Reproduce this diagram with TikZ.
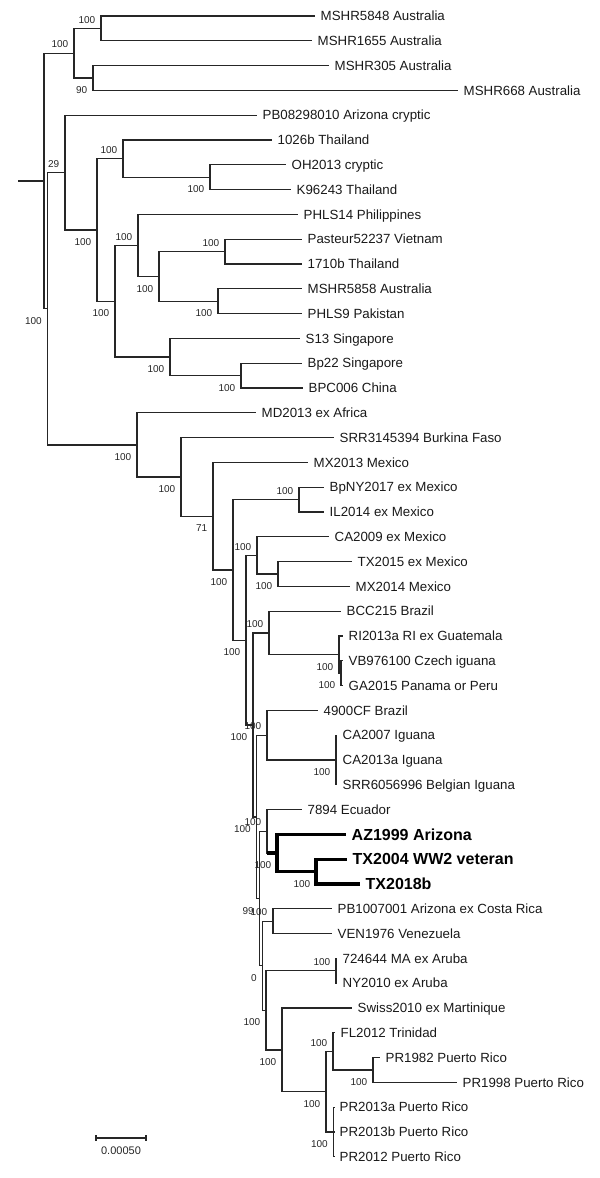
\documentclass[tikz,border=0pt]{standalone}
\usepackage{fontspec}
\setmainfont{Liberation Sans}
\begin{document}
\begin{tikzpicture}[x=1bp,y=-1bp,
  br/.style={line width=1.3bp, draw=black!85},
  hl/.style={line width=3.2bp, draw=black},
  leaf/.style={anchor=west, inner xsep=5.5bp, inner ysep=0pt, text=black!90,
    font=\fontsize{13.3bp}{16bp}\selectfont, text height=9.5bp, text depth=0pt},
  leafb/.style={leaf, font=\fontsize{16bp}{19bp}\selectfont\bfseries, text=black, text height=11.5bp},
  bs/.style={anchor=east, inner sep=0pt, text=black!85,
    font=\fontsize{10bp}{12bp}\selectfont, text height=7.2bp, text depth=0pt},
  bsu/.style={bs, xshift=-5.5bp, yshift=9bp},
  bsd/.style={bs, xshift=-5.5bp, yshift=-12bp}]
\useasboundingbox (0,0) rectangle (600,1178);

% ---------- leaves ----------
\node[leaf] (L1) at (315,16.0) {MSHR5848 Australia};
\node[leaf] (L2) at (312,40.8) {MSHR1655 Australia};
\node[leaf] (L3) at (329,65.6) {MSHR305 Australia};
\node[leaf] (L4) at (458,90.4) {MSHR668 Australia};
\node[leaf] (L5) at (257,115.2) {PB08298010 Arizona cryptic};
\node[leaf] (L6) at (272,140.0) {1026b Thailand};
\node[leaf] (L7) at (286,164.8) {OH2013 cryptic};
\node[leaf] (L8) at (291,189.6) {K96243 Thailand};
\node[leaf] (L9) at (298,214.4) {PHLS14 Philippines};
\node[leaf] (L10) at (302,239.2) {Pasteur52237 Vietnam};
\node[leaf] (L11) at (302,264.0) {1710b Thailand};
\node[leaf] (L12) at (302,288.8) {MSHR5858 Australia};
\node[leaf] (L13) at (302,313.6) {PHLS9 Pakistan};
\node[leaf] (L14) at (300,338.4) {S13 Singapore};
\node[leaf] (L15) at (302,363.2) {Bp22 Singapore};
\node[leaf] (L16) at (303,388.0) {BPC006 China};
\node[leaf] (L17) at (256,412.8) {MD2013 ex Africa};
\node[leaf] (L18) at (334,437.6) {SRR3145394 Burkina Faso};
\node[leaf] (L19) at (308,462.4) {MX2013 Mexico};
\node[leaf] (L20) at (324,487.2) {BpNY2017 ex Mexico};
\node[leaf] (L21) at (324,512.0) {IL2014 ex Mexico};
\node[leaf] (L22) at (329,536.8) {CA2009 ex Mexico};
\node[leaf] (L23) at (352,561.6) {TX2015 ex Mexico};
\node[leaf] (L24) at (350,586.4) {MX2014 Mexico};
\node[leaf] (L25) at (341,611.2) {BCC215 Brazil};
\node[leaf] (L26) at (343,636.0) {RI2013a RI ex Guatemala};
\node[leaf] (L27) at (343,660.8) {VB976100 Czech iguana};
\node[leaf] (L28) at (343,685.6) {GA2015 Panama or Peru};
\node[leaf] (L29) at (318,710.4) {4900CF Brazil};
\node[leaf] (L30) at (337,735.2) {CA2007 Iguana};
\node[leaf] (L31) at (337,760.0) {CA2013a Iguana};
\node[leaf] (L32) at (337,784.8) {SRR6056996 Belgian Iguana};
\node[leaf] (L33) at (302,809.6) {7894 Ecuador};
\node[leafb] (L34) at (346,834.4) {AZ1999 Arizona};
\node[leafb] (L35) at (347,859.2) {TX2004 WW2 veteran};
\node[leafb] (L36) at (360,884.0) {TX2018b};
\node[leaf] (L37) at (332,908.8) {PB1007001 Arizona ex Costa Rica};
\node[leaf] (L38) at (332,933.6) {VEN1976 Venezuela};
\node[leaf] (L39) at (337,958.4) {724644 MA ex Aruba};
\node[leaf] (L40) at (337,983.2) {NY2010 ex Aruba};
\node[leaf] (L41) at (352,1008.0) {Swiss2010 ex Martinique};
\node[leaf] (L42) at (335,1032.8) {FL2012 Trinidad};
\node[leaf] (L43) at (380,1057.6) {PR1982 Puerto Rico};
\node[leaf] (L44) at (457,1082.4) {PR1998 Puerto Rico};
\node[leaf] (L45) at (334,1107.2) {PR2013a Puerto Rico};
\node[leaf] (L46) at (334,1132.0) {PR2013b Puerto Rico};
\node[leaf] (L47) at (334,1156.8) {PR2012 Puerto Rico};

% ---------- internal nodes ----------
\coordinate (S) at (18,180.95);
\coordinate (R) at (44,180.95);
\coordinate (Aus) at (74,53.2);
\coordinate (A1) at (101,28.4);
\coordinate (A2) at (93,78);
\coordinate (N47) at (47.5,308.7);
\coordinate (N65) at (65,172.55);
\coordinate (N97) at (97,229.9);
\coordinate (N123) at (123,158.6);
\coordinate (N210) at (210,177.2);
\coordinate (N115) at (115,301.2);
\coordinate (N138) at (138,245.4);
\coordinate (N159) at (159,276.4);
\coordinate (N225) at (225,251.6);
\coordinate (N218) at (218,301.2);
\coordinate (N170) at (170,357);
\coordinate (N241) at (241,375.6);
\coordinate (N137) at (137,444.85);
\coordinate (N181) at (181,476.9);
\coordinate (N213) at (213,516.15);
\coordinate (N233) at (233,569.9);
\coordinate (N299) at (299,499.6);
\coordinate (N246) at (246,640.15);
\coordinate (N257) at (257,555.4);
\coordinate (N278) at (278,574);
\coordinate (X) at (253,724.9);
\coordinate (N269) at (269,632.9);
\coordinate (N339) at (339,654.6);
\coordinate (N341) at (341,673.2);
\coordinate (Y) at (256.5,816.9);
\coordinate (N267b) at (267,735.2);
\coordinate (NCA) at (336,760);
\coordinate (Z) at (259.5,898.55);
\coordinate (N267) at (267,831.3);
\coordinate (N277) at (277,853);
\coordinate (N316) at (316,871.6);
\coordinate (N262) at (262.5,965.8);
\coordinate (V) at (273,921.2);
\coordinate (P7) at (266,1010.3);
\coordinate (A) at (336,970.8);
\coordinate (P6) at (282,1049.85);
\coordinate (P5) at (326,1091.7);
\coordinate (P2) at (333,1051.4);
\coordinate (P1) at (373,1070);
\coordinate (P3) at (333.5,1132);

% ---------- branches ----------
\draw[br] (S) -- (R);
\draw[br] (R) |- (Aus);  \draw[br] (R) |- (N47);
\draw[br] (Aus) |- (A1); \draw[br] (Aus) |- (A2);
\draw[br] (A1) |- (L1);  \draw[br] (A1) |- (L2);
\draw[br] (A2) |- (L3);  \draw[br] (A2) |- (L4);
\draw[br] (N47) |- (N65); \draw[br] (N47) |- (N137);
\draw[br] (N65) |- (L5); \draw[br] (N65) |- (N97);
\draw[br] (N97) |- (N123); \draw[br] (N97) |- (N115);
\draw[br] (N123) |- (L6); \draw[br] (N123) |- (N210);
\draw[br] (N210) |- (L7); \draw[br] (N210) |- (L8);
\draw[br] (N115) |- (N138); \draw[br] (N115) |- (N170);
\draw[br] (N138) |- (L9); \draw[br] (N138) |- (N159);
\draw[br] (N159) |- (N225); \draw[br] (N159) |- (N218);
\draw[br] (N225) |- (L10); \draw[br] (N225) |- (L11);
\draw[br] (N218) |- (L12); \draw[br] (N218) |- (L13);
\draw[br] (N170) |- (L14); \draw[br] (N170) |- (N241);
\draw[br] (N241) |- (L15); \draw[br] (N241) |- (L16);
\draw[br] (N137) |- (L17); \draw[br] (N137) |- (N181);
\draw[br] (N181) |- (L18); \draw[br] (N181) |- (N213);
\draw[br] (N213) |- (L19); \draw[br] (N213) |- (N233);
\draw[br] (N233) |- (N299); \draw[br] (N233) |- (N246);
\draw[br] (N299) |- (L20); \draw[br] (N299) |- (L21);
\draw[br] (N246) |- (N257); \draw[br] (N246) |- (X);
\draw[br] (N257) |- (L22); \draw[br] (N257) |- (N278);
\draw[br] (N278) |- (L23); \draw[br] (N278) |- (L24);
\draw[br] (X) |- (N269); \draw[br] (X) |- (Y);
\draw[br] (N269) |- (L25); \draw[br] (N269) |- (N339);
\draw[br] (N339) |- (L26); \draw[br] (N339) |- (N341);
\draw[br] (N341) |- (L27); \draw[br] (N341) |- (L28);
\draw[br] (Y) |- (N267b); \draw[br] (Y) |- (Z);
\draw[br] (N267b) |- (L29); \draw[br] (N267b) |- (NCA);
\draw[br] (NCA) |- (L30); \draw[br] (NCA) |- (L31); \draw[br] (NCA) |- (L32);
\draw[br] (Z) |- (N267); \draw[br] (Z) |- (N262);
\draw[br] (N267) |- (L33); \draw[br] (N267) |- (N277);
\draw[hl] (N267 |- N277) -- (N277);
\draw[hl] (N277) |- (L34); \draw[hl] (N277) |- (N316);
\draw[hl] (N316) |- (L35); \draw[hl] (N316) |- (L36);
\draw[br] (N262) |- (V); \draw[br] (N262) |- (P7);
\draw[br] (V) |- (L37); \draw[br] (V) |- (L38);
\draw[br] (P7) |- (A); \draw[br] (P7) |- (P6);
\draw[br] (A) |- (L39); \draw[br] (A) |- (L40);
\draw[br] (P6) |- (L41); \draw[br] (P6) |- (P5);
\draw[br] (P5) |- (P2); \draw[br] (P5) |- (P3);
\draw[br] (P2) |- (L42); \draw[br] (P2) |- (P1);
\draw[br] (P1) |- (L43); \draw[br] (P1) |- (L44);
\draw[br] (P3) |- (L45); \draw[br] (P3) |- (L46); \draw[br] (P3) |- (L47);

% ---------- bootstrap values ----------
\node[bsu] (bAus) at (Aus) {100};
\node[bsu] (bA1) at (A1) {100};
\node[bsd] (bA2) at (A2) {90};
\node[bsu] (bN65) at (N65) {29};
\node[bsd] (bN47) at (N47) {100};
\node[bsu] (bN123) at (N123) {100};
\node[bsd] (bN210) at (N210) {100};
\node[bsd] (bN97) at (N97) {100};
\node[bsd] (bN115) at (N115) {100};
\node[bsu] (bN138) at (N138) {100};
\node[bsd] (bN159) at (N159) {100};
\node[bsu] (bN225) at (N225) {100};
\node[bsd] (bN218) at (N218) {100};
\node[bsd] (bN170) at (N170) {100};
\node[bsd] (bN241) at (N241) {100};
\node[bsd] (bN137) at (N137) {100};
\node[bsd] (bN181) at (N181) {100};
\node[bsd] (bN213) at (N213) {71};
\node[bsd] (bN233) at (N233) {100};
\node[bsu] (bN299) at (N299) {100};
\node[bsd] (bN246) at (N246) {100};
\node[bsu] (bN257) at (N257) {100};
\node[bsd] (bN278) at (N278) {100};
\node[bsd] (bX) at (X) {100};
\node[bsu] (bN269) at (N269) {100};
\node[bsd] (bN339) at (N339) {100};
\node[bsd] (bN341) at (N341) {100};
\node[bsd] (bY) at (Y) {100};
\node[bsu] (bN267b) at (N267b) {100};
\node[bsd] (bNCA) at (NCA) {100};
\node[bsd] (bZ) at (Z) {99};
\node[bsu] (bN267) at (N267) {100};
\node[bsd] (bN277) at (N277) {100};
\node[bsd] (bN316) at (N316) {100};
\node[bsd] (bN262) at (N262) {0};
\node[bsu] (bV) at (V) {100};
\node[bsd] (bP7) at (P7) {100};
\node[bsu] (bA) at (A) {100};
\node[bsd] (bP6) at (P6) {100};
\node[bsd] (bP5) at (P5) {100};
\node[bsu] (bP2) at (P2) {100};
\node[bsd] (bP1) at (P1) {100};
\node[bsd] (bP3) at (P3) {100};

% ---------- scale bar ----------
\coordinate (sb1) at (96,1138);
\coordinate (sb2) at (146,1138);
\draw[br] (sb1) -- (sb2);
\draw[br] ([yshift=3bp]sb1) -- ([yshift=-3bp]sb1);
\draw[br] ([yshift=3bp]sb2) -- ([yshift=-3bp]sb2);
\node[bs, anchor=center, font=\fontsize{11bp}{13bp}\selectfont] (sblab) at (121,1151) {0.00050};
\end{tikzpicture}
\end{document}
